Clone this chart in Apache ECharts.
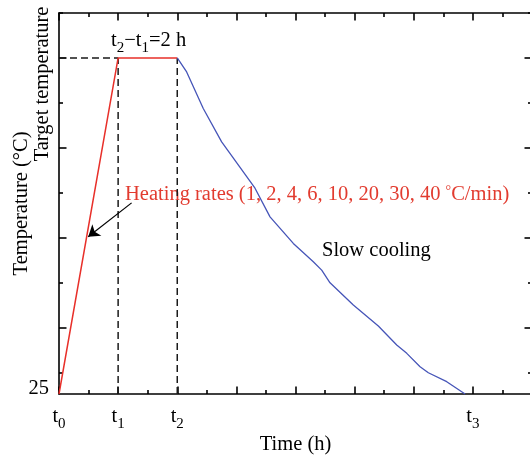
<!DOCTYPE html>
<html><head><meta charset="utf-8">
<script src="https://cdn.jsdelivr.net/npm/echarts@6/dist/echarts.min.js"></script>
<style>html,body{margin:0;padding:0;overflow:hidden;background:#fff;width:530px;height:458px}#c{width:540px;height:458px}</style>
</head><body><div id="c"></div>
<script>
const FONT = '"Liberation Serif", "Times New Roman", serif';
// x: time in grid units (t0 = 0); y: % of the rise from 25 to the target temperature
const heatX = [0, 1, 2];
const heatY = [0, 100, 100];
const coolX = [2.0, 2.159, 2.440, 2.751, 3.315, 3.569, 3.963, 4.301, 4.443, 4.584, 4.978, 5.401, 5.712, 5.882, 6.107, 6.247, 6.558, 6.868];
const coolY = [100, 95.84, 84.95, 75.02, 61.25, 52.72, 44.81, 39.34, 36.87, 33.10, 26.46, 20.22, 14.57, 12.10, 8.12, 6.33, 3.66, 0];
const xTickSubs = {0: '0', 1: '1', 2: '2', 7: '3'};
const yMajorTicks = [19.72, 46.48, 73.24, 100];
const yMinorTicks = [6.34, 33.10, 59.86, 86.62, 113.38];
const yLabelValues = [0];
const yLabelTexts = ['25'];
const dashSegs = [[[0, 100], [1, 100]], [[1, 0], [1, 100]], [[2, 0], [2, 100]]];
const arrowSeg = [[1.228, 56.88], [0.494, 46.77]];

const FS = 20.5;
const richSub = {
  a: {fontFamily: FONT, fontSize: FS, lineHeight: 20, verticalAlign: 'top', color: '#000'},
  b: {fontFamily: FONT, fontSize: 15, lineHeight: 15, verticalAlign: 'top', padding: [11, 0, 0, 0], color: '#000'}
};
const axisLineStyle = {color: '#000', width: 1.6};

const chart = echarts.init(document.getElementById('c'));
const gridRect = {left: 59, top: 13, width: 473, height: 381, containLabel: false, outerBoundsMode: 'none'};

const series = [];
dashSegs.forEach(seg => {
  series.push({type: 'line', xAxisIndex: 0, yAxisIndex: 0, data: seg, symbol: 'none', silent: true,
    lineStyle: {color: '#1a1a1a', width: 1.5, type: [7, 4]}, z: 1});
});
series.push({type: 'line', xAxisIndex: 0, yAxisIndex: 0, data: heatX.map((x, i) => [x, heatY[i]]), symbol: 'none',
  lineStyle: {color: '#e8302a', width: 1.5}, z: 3});
series.push({type: 'line', xAxisIndex: 0, yAxisIndex: 0, data: coolX.map((x, i) => [x, coolY[i]]), symbol: 'none',
  lineStyle: {color: '#4655b8', width: 1.3}, z: 3});
series.push({type: 'line', xAxisIndex: 0, yAxisIndex: 0, data: [], symbol: 'none',
  markLine: {silent: true, symbol: ['none', 'arrow'], symbolSize: 11, label: {show: false},
    lineStyle: {color: '#000', width: 1.2, type: 'solid'},
    data: [[{coord: arrowSeg[0]}, {coord: arrowSeg[1]}]]}, z: 4});

const option = {
  animation: false,
  grid: [Object.assign({}, gridRect), Object.assign({}, gridRect)],
  xAxis: [
    {type: 'value', gridIndex: 0, position: 'bottom', min: 0, max: 8, interval: 1,
      axisLine: {show: true, onZero: false, lineStyle: axisLineStyle},
      axisTick: {show: true, inside: true, length: 7.5, lineStyle: axisLineStyle},
      minorTick: {show: true, splitNumber: 2, length: 4, lineStyle: axisLineStyle},
      splitLine: {show: false},
      axisLabel: {margin: 12, rich: richSub,
        formatter: v => (xTickSubs[v] !== undefined ? '{a|t}{b|' + xTickSubs[v] + '}' : '')},
      name: 'Time (h)', nameLocation: 'middle', nameGap: 40, nameMoveOverlap: false,
      nameTextStyle: {fontFamily: FONT, fontSize: FS, color: '#000'}},
    {type: 'value', gridIndex: 0, position: 'top', min: 0, max: 8, interval: 1,
      axisLine: {show: true, onZero: false, lineStyle: axisLineStyle},
      axisTick: {show: true, inside: true, length: 7.5, lineStyle: axisLineStyle},
      minorTick: {show: true, splitNumber: 2, length: 4, lineStyle: axisLineStyle},
      splitLine: {show: false}, axisLabel: {show: false}},
    {type: 'value', gridIndex: 1, min: 0, max: 8, show: false}
  ],
  yAxis: [
    {type: 'value', gridIndex: 0, position: 'left', min: 0, max: 113.38,
      axisLine: {show: true, onZero: false, lineStyle: axisLineStyle},
      axisTick: {show: true, inside: true, length: 7.5, lineStyle: axisLineStyle, customValues: yMajorTicks},
      splitLine: {show: false},
      axisLabel: {customValues: yLabelValues, margin: 10, verticalAlign: 'bottom', lineHeight: 11,
        fontFamily: FONT, fontSize: FS, color: '#000',
        formatter: v => { const i = yLabelValues.indexOf(v); return i >= 0 ? yLabelTexts[i] : ''; }},
      name: 'Temperature (°C)', nameLocation: 'middle', nameGap: 27, nameRotate: 90, nameMoveOverlap: false,
      nameTextStyle: {fontFamily: FONT, fontSize: FS, color: '#000'}},
    {type: 'value', gridIndex: 0, position: 'right', min: 0, max: 113.38,
      axisLine: {show: true, onZero: false, lineStyle: axisLineStyle},
      axisTick: {show: true, inside: true, length: 7.5, lineStyle: axisLineStyle, customValues: yMajorTicks},
      splitLine: {show: false}, axisLabel: {show: false}},
    {type: 'value', gridIndex: 1, position: 'left', min: 0, max: 113.38,
      axisLine: {show: false},
      axisTick: {show: true, inside: true, length: 4, lineStyle: axisLineStyle, customValues: yMinorTicks},
      splitLine: {show: false}, axisLabel: {show: false}},
    {type: 'value', gridIndex: 1, position: 'right', min: 0, max: 113.38,
      axisLine: {show: false},
      axisTick: {show: true, inside: true, length: 4, lineStyle: axisLineStyle, customValues: yMinorTicks},
      splitLine: {show: false}, axisLabel: {show: false}}
  ],
  graphic: [
    {type: 'text', left: 111, top: 30, silent: true,
      style: {text: '{a|t}{b|2}{a|−t}{b|1}{a|=2 h}',
        rich: {a: {fontFamily: FONT, fontSize: FS, lineHeight: 20, verticalAlign: 'top', fill: '#000'},
               b: {fontFamily: FONT, fontSize: 15, lineHeight: 15, verticalAlign: 'top', padding: [11, 0, 0, 0], fill: '#000'}}}},
    {type: 'text', left: 125, top: 184, silent: true,
      style: {text: '{a|Heating rates (1, 2, 4, 6, 10, 20, 30, 40 }{s|°}{a|C/min)}',
        rich: {a: {fontFamily: FONT, fontSize: FS, lineHeight: 20, verticalAlign: 'top', fill: '#e23b2f'},
               s: {fontFamily: FONT, fontSize: 14, lineHeight: 14, verticalAlign: 'top', fill: '#e23b2f'}}}},
    {type: 'text', left: 322, top: 240, silent: true,
      style: {text: 'Slow cooling', fontFamily: FONT, fontSize: FS, fill: '#000'}},
    {type: 'text', x: 43, y: 84, rotation: Math.PI / 2, silent: true,
      style: {text: 'Target temperature', fontFamily: FONT, fontSize: FS, fill: '#000', align: 'center', verticalAlign: 'middle'}}
  ],
  series: series
};
chart.setOption(option);
</script></body></html>
